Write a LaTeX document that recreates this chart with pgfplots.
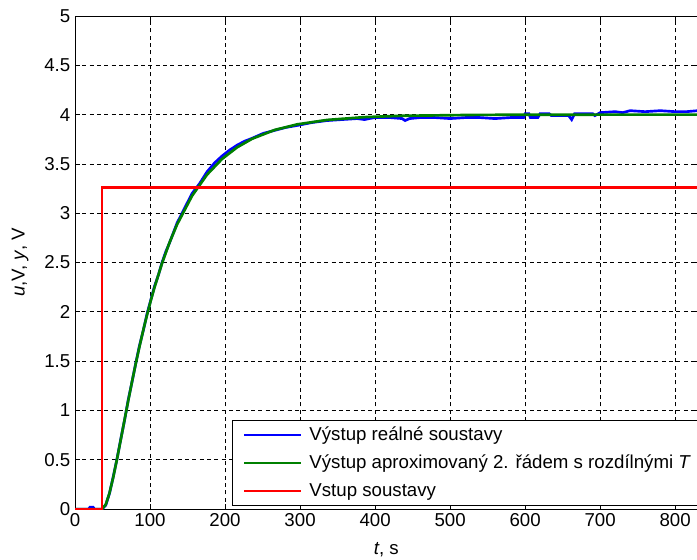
\documentclass[border=0pt]{standalone}
\usepackage{fontspec}
\setmainfont{Liberation Sans}
\usepackage{pgfplots}
\pgfplotsset{compat=1.18}

\definecolor{mblue}{RGB}{0,0,255}
\definecolor{mgreen}{RGB}{0,128,0}
\definecolor{mred}{RGB}{255,0,0}

\begin{document}
\begin{tikzpicture}
\begin{axis}[
    scale only axis,
    width=466.9pt, height=369.75pt,
    xmin=0, xmax=830, ymin=0, ymax=5,
    xtick={0,100,...,800},
    ytick={0,0.5,...,5},
    grid=major,
    grid style={black, line width=0.6pt, dash pattern=on 3pt off 2.5pt},
    axis line style={black, line width=0.75pt},
    tick style={black, line width=0.6pt},
    major tick length=3.75pt,
    tick align=inside,
    /pgf/number format/assume math mode=true,
    tick label style={font=\fontsize{14}{16}\selectfont},
    label style={font=\fontsize{14}{16}\selectfont},
    xlabel={\textit{t}, s},
    ylabel={\textit{u},V, \textit{y}, V},
    xlabel style={at={(axis description cs:0.5,-0.082)}, anchor=center},
    ylabel style={at={(axis description cs:-0.088,0.5)}, anchor=center},
    legend cell align=left,
    legend style={
        at={(axis description cs:0.252,0.006)}, anchor=south west,
        draw=black, line width=0.75pt, fill=white,
        font=\fontsize{14}{16}\selectfont,
        inner xsep=8pt, inner ysep=4pt,
        row sep=7pt,
        nodes={inner ysep=0pt, text height=11pt, text depth=3pt},
        /tikz/every odd column/.append style={column sep=3pt}
    },
    legend image code/.code={\draw[#1] (0pt,0pt) -- (42.75pt,0pt);},
]

% measured output
\addplot[mblue, line width=2pt] coordinates {
    (0,0) (18,0) (20,0.02) (24,0.02) (26,0) (36,0)
    (41,0.04) (46,0.16) (51,0.33) (56,0.51) (61,0.71) (66,0.90)
    (71,1.11) (76,1.29) (81,1.48) (86,1.66) (91,1.81) (96,1.98)
    (101,2.12) (106,2.26) (111,2.37) (116,2.50) (121,2.61) (126,2.70)
    (131,2.80) (136,2.90) (146,3.05) (156,3.20) (166,3.30) (176,3.42)
    (186,3.51) (196,3.58) (206,3.64) (216,3.69) (226,3.73) (236,3.76)
    (251,3.81) (266,3.84) (281,3.87) (296,3.89) (316,3.92) (336,3.94)
    (356,3.95) (376,3.96) (386,3.95) (392,3.96) (400,3.97) (420,3.97)
    (436,3.96) (440,3.94) (446,3.96) (460,3.97) (480,3.97) (500,3.96)
    (520,3.97) (540,3.97) (560,3.96) (580,3.97) (598,3.97) (600,4.01)
    (605,4.01) (607,3.97) (617,3.97) (620,4.01) (632,4.01) (635,3.99)
    (658,3.99) (662,3.95) (666,4.01) (690,4.01) (693,3.99) (700,4.02)
    (720,4.03) (730,4.02) (740,4.04) (760,4.03) (780,4.04) (800,4.03)
    (815,4.03) (830,4.04)
};
\addlegendentry{Výstup reálné soustavy}

% 2nd order approximation
\addplot[mgreen, line width=2pt] coordinates {
    (0,0) (36,0) (41,0.0469) (46,0.1641) (51,0.3241) (56,0.5082)
    (61,0.7044) (66,0.9037) (71,1.1011) (76,1.2925) (81,1.4759)
    (86,1.6504) (91,1.8147) (96,1.9694) (101,2.1142) (106,2.2493)
    (116,2.4928) (126,2.7034) (136,2.8851) (156,3.1762) (176,3.3915)
    (196,3.5503) (216,3.6679) (236,3.7548) (266,3.8443) (296,3.9012)
    (336,3.9461) (386,3.9747) (436,3.9882) (536,3.9974) (636,3.9994)
    (830,4.0)
};
\addlegendentry{Výstup aproximovaný 2. řádem s rozdílnými \textit{T}}

% input step
\addplot[mred, line width=2pt] coordinates {
    (0,0) (36,0) (36,3.26) (830,3.26)
};
\addlegendentry{Vstup soustavy}

\end{axis}
\pgfresetboundingbox
\path ([xshift=-56.25pt,yshift=-37.95pt]current axis.south west)
    rectangle ([xshift=-0.5pt,yshift=12pt]current axis.north east);
\end{tikzpicture}
\end{document}
